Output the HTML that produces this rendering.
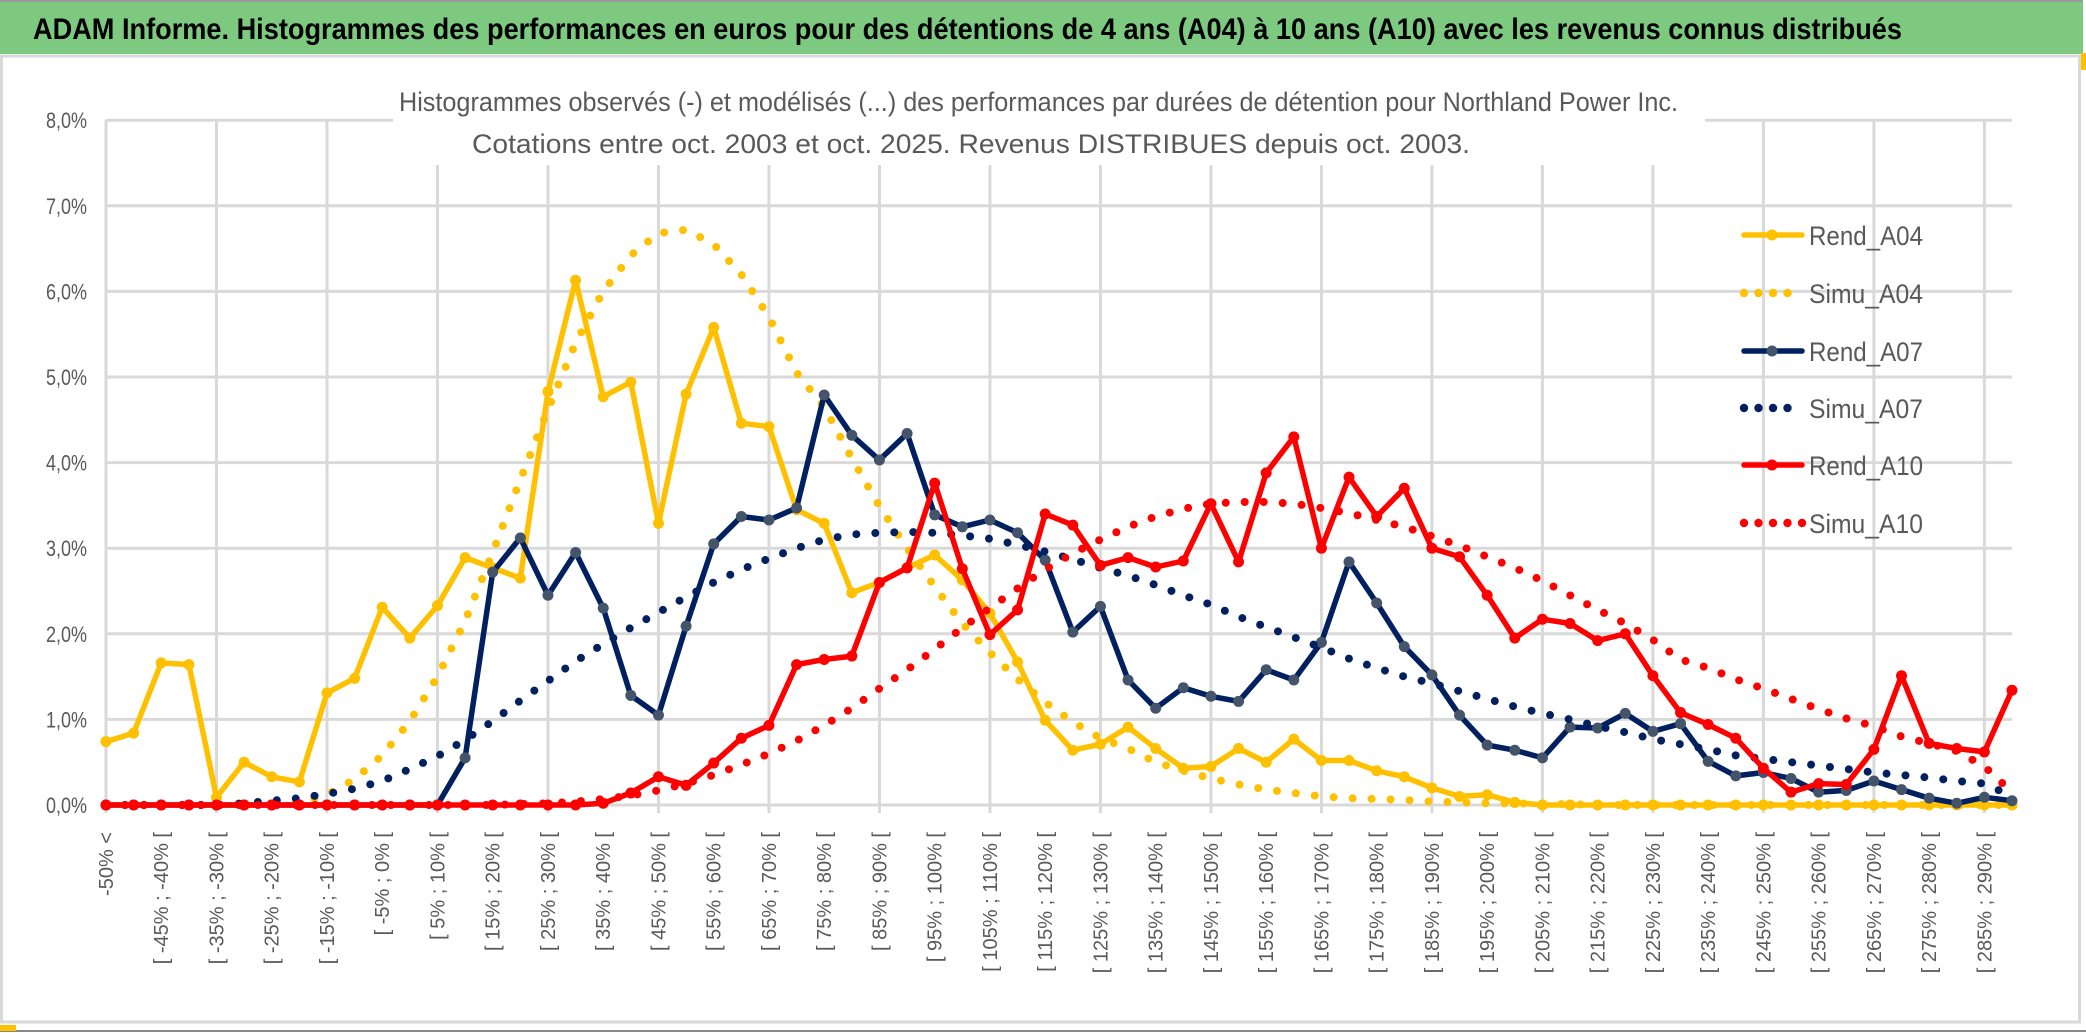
<!DOCTYPE html>
<html><head><meta charset="utf-8"><style>
html,body{margin:0;padding:0;background:#fff;}
svg{display:block;font-family:"Liberation Sans",sans-serif;}
</style></head><body>
<svg id="chart" width="2086" height="1033" viewBox="0 0 2086 1033" xmlns="http://www.w3.org/2000/svg">
<rect x="0" y="0" width="2086" height="1033" fill="#fff"/>
<rect x="0" y="0" width="2083" height="54" fill="#7dc97f"/>
<line x1="0" y1="1" x2="2083" y2="1" stroke="#999" stroke-width="2"/>
<rect x="1.5" y="56" width="2078" height="966" fill="none" stroke="#d9d9d9" stroke-width="3"/>
<line x1="0" y1="1031" x2="2086" y2="1031" stroke="#888" stroke-width="2"/>
<rect x="0" y="1025" width="16" height="6" fill="#ffc000"/>
<rect x="2081" y="53" width="5" height="17" fill="#ffc000"/>
<text x="33" y="39" font-size="30" font-weight="bold" fill="#000" textLength="1869" lengthAdjust="spacingAndGlyphs">ADAM Informe. Histogrammes des performances en euros pour des détentions de 4 ans (A04) à 10 ans (A10) avec les revenus connus distribués</text>
<g id="grid"></g>
<rect x="393" y="85" width="1312" height="80" fill="#fff"/>
<text x="399" y="111" font-size="27" fill="#595959" textLength="1279" lengthAdjust="spacingAndGlyphs">Histogrammes observés (-) et modélisés (...) des performances par durées de détention pour Northland Power Inc.</text>
<text x="472" y="153" font-size="27" fill="#595959" textLength="998" lengthAdjust="spacingAndGlyphs">Cotations entre oct. 2003 et oct. 2025. Revenus DISTRIBUES depuis oct. 2003.</text>
<g id="axes"></g>
<g id="series"></g>
<g id="legend"></g>
</svg>
<script>
const yTicks = [0,1,2,3,4,5,6,7,8];
const yTickLabels = ["0,0%","1,0%","2,0%","3,0%","4,0%","5,0%","6,0%","7,0%","8,0%"];
const categories = [];
categories.push("-50% <");
for (let k = 1; k < 70; k++) categories.push("[ " + (-55 + 5*k) + "% ; " + (-50 + 5*k) + "% [");

const rendA04 = [0.74,0.84,1.66,1.64,0.09,0.5,0.33,0.27,1.31,1.48,2.31,1.95,2.33,2.89,2.77,2.65,4.83,6.13,4.77,4.94,3.29,4.8,5.58,4.46,4.42,3.45,3.29,2.48,2.6,2.77,2.92,2.63,2.24,1.67,0.99,0.64,0.71,0.91,0.66,0.43,0.45,0.66,0.5,0.77,0.52,0.52,0.4,0.33,0.2,0.1,0.12,0.03,0,0,0,0,0,0,0,0,0,0,0,0,0,0,0,0,0,0];
const simuA04 = [0,0,0,0,0,0,0.01,0.03,0.12,0.3,0.58,0.98,1.5,2.15,2.95,3.8,4.62,5.4,6.0,6.42,6.68,6.72,6.55,6.2,5.7,5.05,4.65,4.05,3.49,3.0,2.55,2.12,1.78,1.47,1.2,0.97,0.78,0.66,0.5,0.4,0.31,0.24,0.18,0.14,0.1,0.08,0.07,0.06,0.04,0.03,0.02,0.02,0.01,0.01,0,0,0,0,0,0,0,0,0,0,0,0,0,0,0,0];
const rendA07 = [0,0,0,0,0,0,0,0,0,0,0,0,0,0.55,2.72,3.12,2.45,2.95,2.3,1.28,1.05,2.09,3.05,3.37,3.33,3.47,4.79,4.32,4.03,4.34,3.39,3.25,3.33,3.18,2.86,2.02,2.32,1.46,1.13,1.37,1.27,1.21,1.58,1.46,1.9,2.84,2.36,1.85,1.52,1.05,0.7,0.64,0.55,0.91,0.9,1.07,0.86,0.95,0.51,0.34,0.38,0.31,0.15,0.17,0.28,0.18,0.08,0.02,0.09,0.05];
const simuA07 = [0,0,0,0,0,0.02,0.05,0.08,0.13,0.19,0.28,0.42,0.57,0.76,0.98,1.22,1.45,1.68,1.88,2.07,2.25,2.43,2.6,2.75,2.88,3.0,3.1,3.16,3.18,3.19,3.18,3.15,3.11,3.04,2.96,2.87,2.77,2.68,2.57,2.45,2.34,2.2,2.08,1.96,1.84,1.71,1.6,1.5,1.42,1.33,1.24,1.15,1.07,1.0,0.92,0.85,0.77,0.71,0.65,0.58,0.54,0.5,0.46,0.42,0.38,0.35,0.32,0.28,0.25,0.1];
const rendA10 = [0,0,0,0,0,0,0,0,0,0,0,0,0,0,0,0,0,0,0.02,0.14,0.33,0.23,0.49,0.78,0.93,1.64,1.7,1.74,2.6,2.77,3.76,2.76,1.99,2.28,3.4,3.27,2.8,2.89,2.78,2.85,3.52,2.84,3.88,4.3,3.0,3.83,3.37,3.7,3.0,2.9,2.45,1.95,2.17,2.12,1.92,2.0,1.51,1.08,0.94,0.78,0.43,0.15,0.25,0.24,0.65,1.51,0.72,0.66,0.62,1.34];
const simuA10 = [0,0,0,0,0,0,0,0,0,0,0,0,0,0,0,0.01,0.02,0.04,0.07,0.11,0.17,0.25,0.35,0.47,0.6,0.75,0.93,1.13,1.36,1.58,1.82,2.07,2.3,2.53,2.75,2.94,3.1,3.25,3.37,3.46,3.52,3.54,3.54,3.52,3.47,3.41,3.33,3.25,3.14,3.03,2.9,2.77,2.62,2.45,2.28,2.12,1.93,1.7,1.6,1.47,1.36,1.24,1.12,1.01,0.92,0.8,0.72,0.63,0.45,0.15];

const seriesNames = ["Rend_A04","Simu_A04","Rend_A07","Simu_A07","Rend_A10","Simu_A10"];
const NS = "http://www.w3.org/2000/svg";
const X0 = 106, X1 = 2012, Y0 = 805, YPER = 85.6;
function xPos(i){ return X0 + i * (X1 - X0) / (categories.length - 1); }
function yPos(v){ return Y0 - v * YPER; }
function mk(tag, attrs, parent){ const e = document.createElementNS(NS, tag); for (const k in attrs) e.setAttribute(k, attrs[k]); parent.appendChild(e); return e; }

const grid = document.getElementById('grid');
yTicks.forEach(function(t){
  const l = mk('line', {x1:X0, x2:X1, y1:yPos(t), y2:yPos(t), stroke:'#d9d9d9', 'stroke-width':3}, grid);
  
  
});
for (let i = 0; i < categories.length; i += 4) {
  const l = mk('line', {x1:xPos(i), x2:xPos(i), y1:yPos(8), y2:Y0 + 8, stroke:'#d9d9d9', 'stroke-width':3}, grid);
  
  
}
const axes = document.getElementById('axes');
yTicks.forEach(function(t, k){
  const tx = mk('text', {x:87, y:yPos(t)+8, 'font-size':22, fill:'#595959', 'text-anchor':'end', textLength:41, lengthAdjust:'spacingAndGlyphs'}, axes);
  tx.textContent = yTickLabels[k];
  
  
});
for (let i = 0; i < categories.length; i += 2) {
  const x = xPos(i) + 7, y = 832;
  const tx = mk('text', {x:x, y:y, 'font-size':20, fill:'#595959', 'text-anchor':'end', transform:'rotate(-90 ' + x + ' ' + y + ')'}, axes);
  tx.textContent = categories[i];
  
  
}

const sg = document.getElementById('series');
function pathOf(arr){ return arr.map(function(v,i){ return (i ? 'L' : 'M') + xPos(i).toFixed(1) + ' ' + yPos(v).toFixed(1); }).join(' '); }
function solid(arr, color, mcolor, name){
  const g = mk('g', {}, sg);
  
  
  const p = mk('path', {d:pathOf(arr), fill:'none', stroke:color, 'stroke-width':5.5, 'stroke-linejoin':'round', 'stroke-linecap':'round'}, g);
  
  
  arr.forEach(function(v,i){
    const c = mk('circle', {cx:xPos(i), cy:yPos(v), r:5.5, fill:mcolor}, g);
    
    
  });
}
function dotted(arr, color, name){
  const p = mk('path', {d:pathOf(arr), fill:'none', stroke:color, 'stroke-width':8, 'stroke-dasharray':'0 19', 'stroke-linecap':'round'}, sg);
  
  
}
solid(rendA04, '#ffc000', '#ffc000', 'rend-a04');
dotted(simuA04, '#ffc000', 'simu-a04');
solid(rendA07, '#002060', '#44546a', 'rend-a07');
dotted(simuA07, '#002060', 'simu-a07');
solid(rendA10, '#ff0000', '#ff0000', 'rend-a10');
dotted(simuA10, '#ff0000', 'simu-a10');

const lg = document.getElementById('legend');
const legColors = ['#ffc000','#ffc000','#002060','#002060','#ff0000','#ff0000'];
const legY = [235,293,351,408,465,523];
seriesNames.forEach(function(n, k){
  const g = mk('g', {}, lg);
  
  
  const y = legY[k];
  if (k % 2 === 0) {
    mk('line', {x1:1744, x2:1802, y1:y, y2:y, stroke:legColors[k], 'stroke-width':5.5, 'stroke-linecap':'round'}, g);
    mk('circle', {cx:1772, cy:y, r:5.5, fill: k === 2 ? '#44546a' : legColors[k]}, g);
  } else {
    const nd = k === 5 ? 5 : 4;
    for (let d = 0; d < nd; d++) mk('circle', {cx:1744 + d*14.5, cy:y, r:4.2, fill:legColors[k]}, g);
  }
  const t = mk('text', {x:1809, y:y+10, 'font-size':27, fill:'#595959', textLength:114, lengthAdjust:'spacingAndGlyphs'}, g);
  t.textContent = n;
});
</script>
</body></html>
